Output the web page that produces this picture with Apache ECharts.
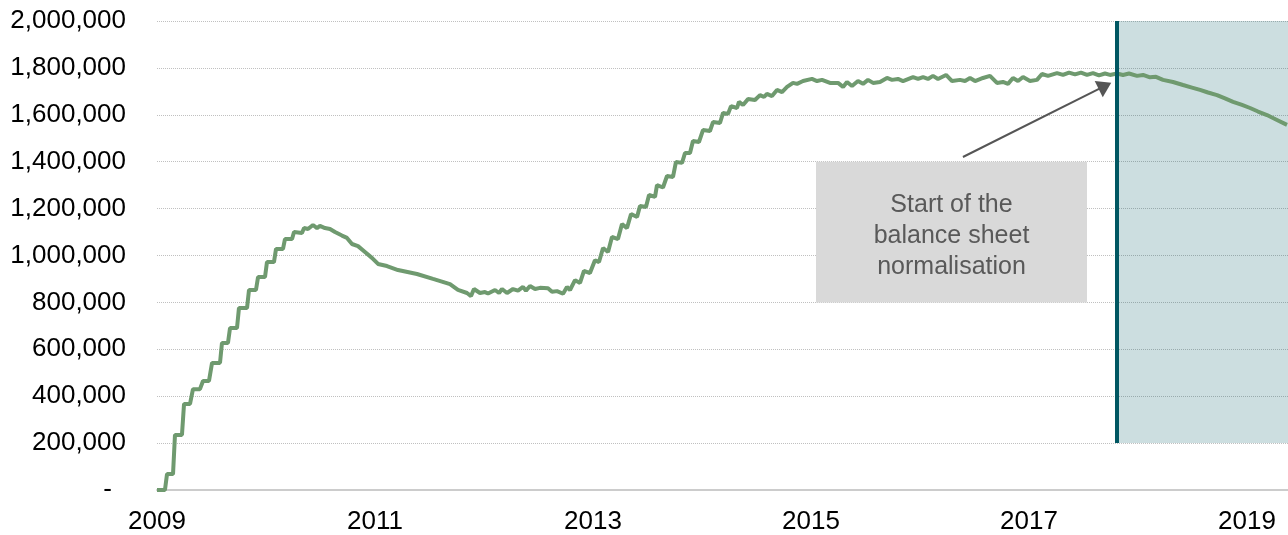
<!DOCTYPE html>
<html>
<head>
<meta charset="utf-8">
<script src="https://cdn.jsdelivr.net/npm/echarts@6/dist/echarts.min.js"></script>
<style>
	html, body { margin: 0; padding: 0; background: #fff; }
	#main { width: 1288px; height: 535px; }
</style>
</head>
<body>
<div id="main"></div>
<script>
// time axis in decimal years, holdings in USD million
var years = [
	2009.000, 2009.073, 2009.092, 2009.147, 2009.165, 2009.229, 2009.248, 2009.303, 2009.330, 2009.394,
	2009.422, 2009.477, 2009.505, 2009.578, 2009.596, 2009.651, 2009.670, 2009.734, 2009.752, 2009.826,
	2009.844, 2009.908, 2009.927, 2009.991, 2010.009, 2010.073, 2010.092, 2010.156, 2010.174, 2010.239,
	2010.257, 2010.330, 2010.349, 2010.385, 2010.431, 2010.468, 2010.495, 2010.541, 2010.587, 2010.633,
	2010.697, 2010.743, 2010.789, 2010.844, 2010.908, 2010.972, 2011.028, 2011.110, 2011.211, 2011.385,
	2011.532, 2011.688, 2011.761, 2011.844, 2011.881, 2011.908, 2011.963, 2012.009, 2012.037, 2012.101,
	2012.138, 2012.165, 2012.211, 2012.266, 2012.312, 2012.358, 2012.385, 2012.422, 2012.468, 2012.514,
	2012.587, 2012.624, 2012.670, 2012.725, 2012.761, 2012.789, 2012.835, 2012.881, 2012.917, 2012.972,
	2013.018, 2013.055, 2013.092, 2013.138, 2013.174, 2013.229, 2013.266, 2013.312, 2013.349, 2013.404,
	2013.431, 2013.486, 2013.514, 2013.569, 2013.587, 2013.642, 2013.679, 2013.734, 2013.761, 2013.817,
	2013.844, 2013.890, 2013.917, 2013.972, 2014.009, 2014.073, 2014.101, 2014.165, 2014.193, 2014.239,
	2014.266, 2014.321, 2014.339, 2014.376, 2014.422, 2014.486, 2014.532, 2014.569, 2014.596, 2014.642,
	2014.688, 2014.734, 2014.780, 2014.835, 2014.872, 2014.927, 2015.009, 2015.055, 2015.101, 2015.174,
	2015.248, 2015.294, 2015.330, 2015.376, 2015.431, 2015.477, 2015.523, 2015.569, 2015.633, 2015.697,
	2015.743, 2015.798, 2015.844, 2015.936, 2015.982, 2016.028, 2016.073, 2016.119, 2016.165, 2016.239,
	2016.294, 2016.367, 2016.413, 2016.459, 2016.505, 2016.578, 2016.642, 2016.706, 2016.761, 2016.807,
	2016.853, 2016.899, 2016.945, 2017.009, 2017.073, 2017.119, 2017.174, 2017.257, 2017.312, 2017.367,
	2017.422, 2017.477, 2017.532, 2017.587, 2017.642, 2017.697, 2017.743, 2017.807, 2017.862, 2017.917,
	2017.991, 2018.046, 2018.110, 2018.165, 2018.229, 2018.321, 2018.413, 2018.495, 2018.569, 2018.642,
	2018.725, 2018.798, 2018.872, 2018.954, 2019.028, 2019.101, 2019.183, 2019.275, 2019.367
];

var holdings = [
	0, 0, 68000, 68000, 235000, 235000, 367000, 367000, 430000, 430000,
	465000, 465000, 542000, 542000, 627000, 627000, 691000, 691000, 776000, 776000,
	853000, 853000, 908000, 908000, 972000, 972000, 1028000, 1028000, 1070000, 1070000,
	1100000, 1096000, 1117000, 1113000, 1130000, 1117000, 1126000, 1117000, 1113000, 1100000,
	1085000, 1075000, 1049000, 1040000, 1015000, 990000, 964000, 955000, 938000, 921000,
	900000, 878000, 853000, 840000, 827000, 857000, 840000, 844000, 838000, 853000,
	840000, 857000, 840000, 857000, 850000, 866000, 850000, 870000, 857000, 862000,
	860000, 845000, 848000, 837000, 866000, 853000, 895000, 883000, 934000, 925000,
	980000, 972000, 1032000, 1015000, 1079000, 1070000, 1134000, 1117000, 1177000, 1164000,
	1211000, 1207000, 1258000, 1250000, 1300000, 1290000, 1339000, 1335000, 1399000, 1395000,
	1437000, 1437000, 1488000, 1484000, 1535000, 1531000, 1569000, 1565000, 1608000, 1604000,
	1637000, 1629000, 1655000, 1642000, 1667000, 1663000, 1684000, 1676000, 1689000, 1680000,
	1706000, 1697000, 1719000, 1736000, 1732000, 1744000, 1753000, 1744000, 1749000, 1736000,
	1736000, 1719000, 1740000, 1723000, 1744000, 1732000, 1749000, 1736000, 1740000, 1757000,
	1749000, 1753000, 1744000, 1761000, 1753000, 1761000, 1753000, 1766000, 1753000, 1770000,
	1744000, 1749000, 1744000, 1757000, 1744000, 1757000, 1766000, 1736000, 1740000, 1732000,
	1757000, 1744000, 1761000, 1744000, 1749000, 1774000, 1766000, 1778000, 1770000, 1780000,
	1772000, 1780000, 1770000, 1778000, 1768000, 1776000, 1770000, 1776000, 1770000, 1776000,
	1766000, 1770000, 1760000, 1762000, 1749000, 1740000, 1727000, 1716000, 1706000, 1695000,
	1684000, 1670000, 1655000, 1642000, 1629000, 1614000, 1599000, 1578000, 1557000
];

var yTicks = [0, 200000, 400000, 600000, 800000, 1000000, 1200000, 1400000, 1600000, 1800000, 2000000];
var xLabelYears = [2009, 2011, 2013, 2015, 2017, 2019];

// normalisation start and annotation
var normStart = 2017.807;
var shadeLow = 200000;
var noteBox = [[2015.046, 1400000], [2017.532, 800000]];
var noteText = 'Start of the\nbalance sheet\nnormalisation';
var arrowFrom = [2016.394, 1420000];
var arrowTo = [2017.697, 1723000];

var xMin = 2009, xMax = 2019.376;
var font = 'Liberation Sans, Arial, sans-serif';

var seriesData = [];
for (var i = 0; i < years.length; i++) {
	seriesData.push([years[i], holdings[i]]);
}

var myChart = echarts.init(document.getElementById('main'));

var option = {
	animation: false,
	grid: {
		left: 157,
		right: 0,
		top: 21,
		bottom: 45
	},
	xAxis: {
		type: 'value',
		min: xMin,
		max: xMax,
		interval: 2,
		axisLine: { show: true, lineStyle: { color: '#cccccc', width: 2 } },
		axisTick: { show: false },
		splitLine: { show: false },
		axisLabel: {
			color: '#000',
			fontSize: 26,
			fontFamily: font,
			margin: 19,
			showMaxLabel: false,
			formatter: function(v) {
				var y = Math.round(v);
				return xLabelYears.indexOf(y) >= 0 && Math.abs(v - y) < 0.01 ? String(y) : '';
			}
		}
	},
	yAxis: {
		type: 'value',
		min: yTicks[0],
		max: yTicks[yTicks.length - 1],
		interval: 200000,
		axisLine: { show: false },
		axisTick: { show: false },
		splitLine: {
			show: true,
			lineStyle: { color: '#c0c0c0', type: 'dotted', width: 1 }
		},
		axisLabel: {
			color: '#000',
			fontSize: 26,
			fontFamily: font,
			margin: 31,
			formatter: function(v) {
				if (v === 0) return '{dash|-}';
				return v.toString().replace(/\B(?=(\d{3})+(?!\d))/g, ',');
			},
			rich: {
				dash: { fontSize: 26, fontFamily: font, color: '#000', padding: [0, 14, 0, 0] }
			}
		}
	},
	series: [
		{
			name: 'Holdings',
			type: 'line',
			data: seriesData,
			showSymbol: false,
			z: 2,
			lineStyle: { color: '#6f9a6f', width: 4 },
			markArea: {
				silent: true,
				itemStyle: { color: '#d9d9d9' },
				label: {
					show: true,
					position: 'inside',
					color: '#595959',
					fontSize: 25,
					lineHeight: 31,
					fontFamily: font,
					align: 'center',
					offset: [0, 4],
					formatter: noteText
				},
				data: [[{ coord: noteBox[0] }, { coord: noteBox[1] }]]
			},
			markLine: {
				silent: true,
				symbol: ['none', 'triangle'],
				symbolSize: [18, 14],
				lineStyle: { color: '#555555', width: 2, type: 'solid' },
				label: { show: false },
				data: [[{ coord: arrowFrom }, { coord: arrowTo }]]
			}
		},
		{
			// shaded period after start of normalisation, drawn over the line
			name: 'Normalisation',
			type: 'line',
			data: [],
			z: 5,
			markArea: {
				silent: true,
				itemStyle: { color: 'rgba(0,90,100,0.2)' },
				data: [[{ coord: [normStart, shadeLow] }, { coord: [xMax, yTicks[yTicks.length - 1]] }]]
			},
			markLine: {
				silent: true,
				symbol: ['none', 'none'],
				lineStyle: { color: '#005762', width: 4, type: 'solid' },
				label: { show: false },
				data: [[{ coord: [normStart, shadeLow] }, { coord: [normStart, yTicks[yTicks.length - 1]] }]]
			}
		}
	]
};

myChart.setOption(option);
</script>
</body>
</html>
